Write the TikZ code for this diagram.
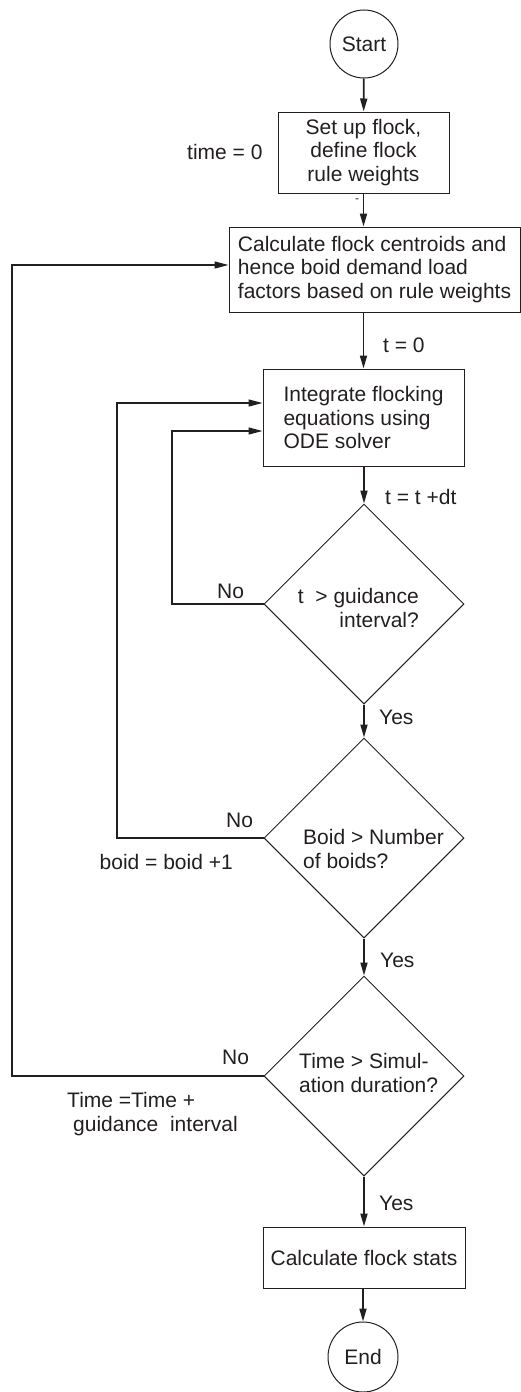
\documentclass[tikz,border=0pt]{standalone}
\usepackage{fontspec}
\setmainfont{Liberation Sans}
\usetikzlibrary{shapes.geometric,arrows.meta}
\definecolor{ink}{RGB}{35,31,32}
\begin{document}
\begin{tikzpicture}[x=1pt,y=-1pt,
  every node/.style={font=\fontsize{21}{23.3}\selectfont, text=ink},
  term/.style={circle, draw=ink, line width=1pt, minimum size=68pt, inner sep=0pt},
  proc/.style={rectangle, draw=ink, line width=1pt, inner sep=0pt},
  decide/.style={diamond, draw=ink, line width=1pt, minimum width=200pt, minimum height=200pt, inner sep=0pt, aspect=1},
  lbl/.style={inner sep=0pt},
  arr/.style={draw=ink, line width=1.8pt, -{Triangle[length=13pt,width=7pt]}},
  fbarr/.style={draw=ink, line width=1.2pt, -{Triangle[length=14pt,width=7pt]}}]
\useasboundingbox (0,0) rectangle (521,1392);

% main nodes
\node[term] (start) at (364,44) {Start};
\node[proc, minimum width=171pt, minimum height=81pt, align=center] (b1) at (363.5,152.5) {Set up flock,\\define flock\\rule weights};
\node[proc, minimum width=291pt, minimum height=85pt, align=left] (b2) at (374.5,269.5) {Calculate flock centroids and\\hence boid demand load\\factors based on rule weights};
\node[proc, minimum width=201pt, minimum height=97pt, align=left] (b3) at (363.5,417.5) {Integrate flocking\\equations using\\ODE solver};
\node[decide] (d1) at (364,604) {};
\node[lbl, align=right, anchor=base east] (d1t) at (419,627) {t\ \ > guidance\\interval?};
\node[decide] (d2) at (364,838) {};
\node[lbl, align=left, anchor=base west] (d2t) at (303,868) {Boid > Number\\of boids?};
\node[decide] (d3) at (364,1076) {};
\node[lbl, align=left, anchor=base west] (d3t) at (299,1092) {Time > Simul-\\ation duration?};
\node[proc, minimum width=202pt, minimum height=61pt] (b4) at (364,1257.5) {Calculate flock stats};
\node[term, minimum size=70pt] (end) at (363,1357) {End};

% main flow
\draw[arr] (start) -- (b1);
\draw[arr] (b1.south) -- (b1.south |- b2.north);
\draw[arr] (b2.south -| b3.north) -- (b3.north);
\draw[arr] (b3.south -| d1.north) -- (d1.north);
\draw[arr] (d1.south) -- (d2.north);
\draw[arr] (d2.south) -- (d3.north);
\draw[arr] (d3.south) -- (d3.south |- b4.north);
\draw[arr] (b4.south -| end.north) -- (end.north);

% feedback loops
\coordinate (x1) at (172,0);
\coordinate (x2) at (117,0);
\coordinate (x3) at (12,0);
\coordinate (in1) at ([yshift=-13.5pt]b3.west);
\coordinate (in2) at ([yshift=14.5pt]b3.west);
\coordinate (in3) at ([yshift=4.5pt]b2.west);
\draw[fbarr] (d1.west) -| (in1 -| x1) -- (in1);
\draw[fbarr] (d2.west) -| (in2 -| x2) -- (in2);
\draw[fbarr] (d3.west) -| (in3 -| x3) -- (in3);

% labels
\node[lbl, anchor=base west] (lt0) at (187,159) {time = 0};
\node[lbl, font=\fontsize{12}{12}\selectfont] (dash) at (357,201) {-};
\node[lbl, anchor=base west] (lt1) at (383,352) {t = 0};
\node[lbl, anchor=base west] (lt2) at (385,504) {t = t +dt};
\node[lbl, anchor=base west] (no1) at (217,598) {No};
\node[lbl, anchor=base west] (yes1) at (379,724) {Yes};
\node[lbl, anchor=base west] (no2) at (226,827) {No};
\node[lbl, anchor=base east] (lb) at (233,869) {boid = boid +1};
\node[lbl, anchor=base west] (yes2) at (380,967) {Yes};
\node[lbl, anchor=base west] (no3) at (222,1064) {No};
\node[lbl, anchor=base west, align=left] (lt3) at (67,1131) {Time =Time +\\\hspace*{6pt}guidance\ \ interval};
\node[lbl, anchor=base west] (yes3) at (379,1210) {Yes};
\end{tikzpicture}
\end{document}
